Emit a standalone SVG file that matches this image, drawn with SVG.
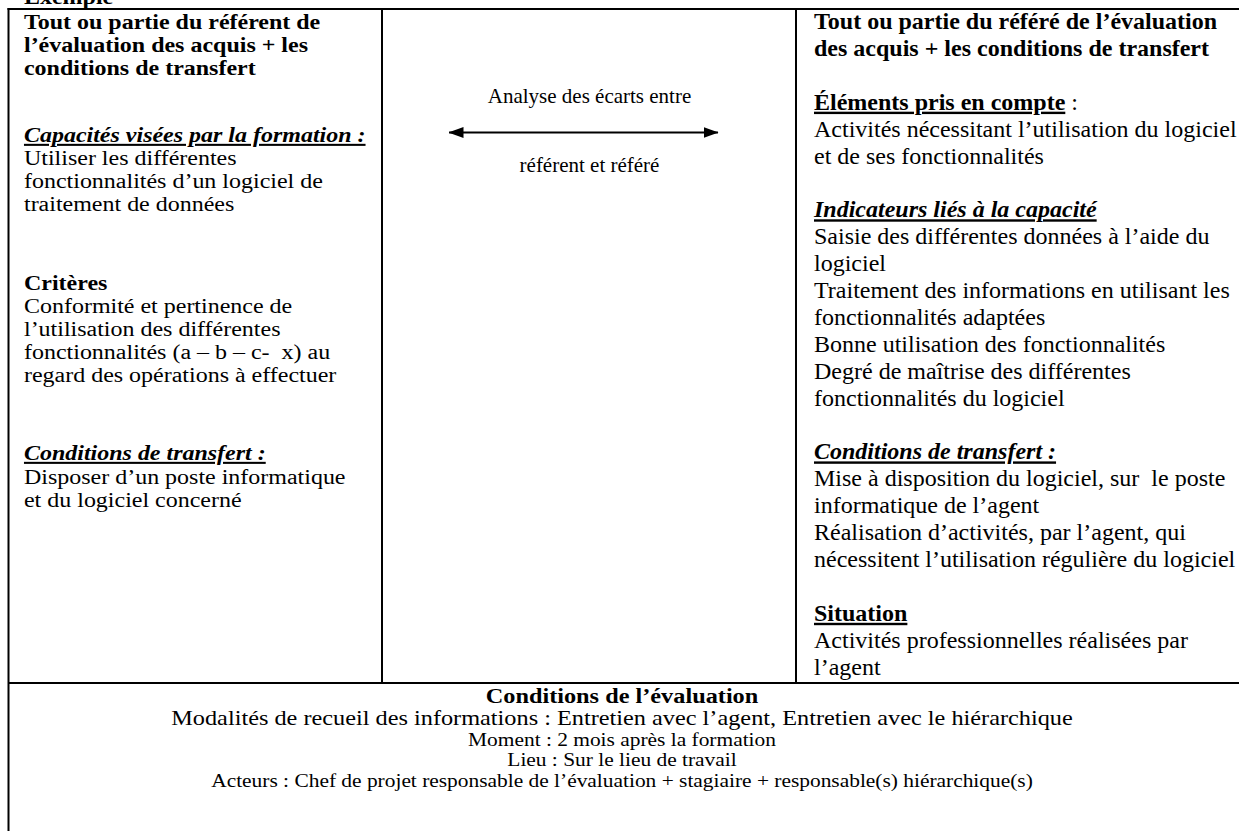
<svg xmlns="http://www.w3.org/2000/svg" width="1239" height="831" viewBox="0 0 1239 831">
<defs>
<style>
text{font-family:"Liberation Serif","Times New Roman",serif;fill:#000;white-space:pre}
.t{font-size:24px}
.l{font-size:20.5px}
.s{font-size:21px}
.f{font-size:18px}
.b{font-weight:bold}
.bi{font-weight:bold;font-style:italic;text-decoration:underline}
.u{text-decoration:underline}
.m{text-anchor:middle}
.ln{stroke:#000;stroke-width:2;fill:none}
</style>
<marker id="ah" viewBox="0 0 15 11" refX="14.5" refY="5.5" markerWidth="15" markerHeight="11" markerUnits="userSpaceOnUse" orient="auto-start-reverse">
<path d="M0,0 L15,5.5 L0,11 Z" fill="#000"/>
</marker>
</defs>
<rect x="0" y="0" width="1239" height="831" fill="#fff"/>
<g id="grid">
<line class="ln" x1="7.5" y1="9" x2="1239" y2="9"/>
<line class="ln" x1="8.5" y1="8" x2="8.5" y2="831"/>
<line class="ln" x1="382" y1="9" x2="382" y2="683"/>
<line class="ln" x1="796" y1="9" x2="796" y2="683"/>
<line class="ln" x1="8" y1="683" x2="1239" y2="683"/>
</g>
<g id="title" transform="scale(1.17 1)">
<text class="l b" x="20.5" y="4">Exemple</text>
</g>
<g id="cell-referent" transform="scale(1.17 1)">
<text class="l b" x="20.5" y="29">Tout ou partie du référent de</text>
<text class="l b" x="20.5" y="52">l’évaluation des acquis + les</text>
<text class="l b" x="20.5" y="75">conditions de transfert</text>
<text class="l bi" x="20.5" y="142">Capacités visées par la formation :</text>
<text class="l" x="20.5" y="165">Utiliser les différentes</text>
<text class="l" x="20.5" y="188">fonctionnalités d’un logiciel de</text>
<text class="l" x="20.5" y="211">traitement de données</text>
<text class="l b" x="20.5" y="290">Critères</text>
<text class="l" x="20.5" y="313">Conformité et pertinence de</text>
<text class="l" x="20.5" y="336">l’utilisation des différentes</text>
<text class="l" x="20.5" y="359">fonctionnalités (a – b – c-  x) au</text>
<text class="l" x="20.5" y="382">regard des opérations à effectuer</text>
<text class="l bi" x="20.5" y="460">Conditions de transfert :</text>
<text class="l" x="20.5" y="484">Disposer d’un poste informatique</text>
<text class="l" x="20.5" y="507">et du logiciel concerné</text>
</g>
<g id="cell-analyse">
<text class="s m" x="589.5" y="103">Analyse des écarts entre</text>
<text class="s m" x="589.5" y="172">référent et référé</text>
</g>
<g id="connectors">
<line class="ln" x1="449" y1="132.5" x2="718" y2="132.5" marker-start="url(#ah)" marker-end="url(#ah)"/>
</g>
<g id="cell-refere">
<text class="t b" x="814" y="29">Tout ou partie du référé de l’évaluation</text>
<text class="t b" x="814" y="55.9">des acquis + les conditions de transfert</text>
<text class="t" x="814" y="109.7"><tspan class="b u">Éléments pris en compte</tspan> :</text>
<text class="t" x="814" y="136.6">Activités nécessitant l’utilisation du logiciel</text>
<text class="t" x="814" y="163.5">et de ses fonctionnalités</text>
<text class="t bi" x="814" y="217.3">Indicateurs liés à la capacité</text>
<text class="t" x="814" y="244.2">Saisie des différentes données à l’aide du</text>
<text class="t" x="814" y="271.1">logiciel</text>
<text class="t" x="814" y="298">Traitement des informations en utilisant les</text>
<text class="t" x="814" y="324.9">fonctionnalités adaptées</text>
<text class="t" x="814" y="351.8">Bonne utilisation des fonctionnalités</text>
<text class="t" x="814" y="378.7">Degré de maîtrise des différentes</text>
<text class="t" x="814" y="405.6">fonctionnalités du logiciel</text>
<text class="t bi" x="814" y="459.4">Conditions de transfert :</text>
<text class="t" x="814" y="486.3">Mise à disposition du logiciel, sur  le poste</text>
<text class="t" x="814" y="513.2">informatique de l’agent</text>
<text class="t" x="814" y="540.1">Réalisation d’activités, par l’agent, qui</text>
<text class="t" x="814" y="567">nécessitent l’utilisation régulière du logiciel</text>
<text class="t b u" x="814" y="620.8">Situation</text>
<text class="t" x="814" y="647.7">Activités professionnelles réalisées par</text>
<text class="t" x="814" y="674.6">l’agent</text>
</g>
<g id="cell-conditions">
<g transform="scale(1.185 1)">
<text class="l b m" x="524.9" y="703">Conditions de l’évaluation</text>
<text class="l m" x="524.9" y="725">Modalités de recueil des informations : Entretien avec l’agent, Entretien avec le hiérarchique</text>
</g>
<g transform="scale(1.19 1)">
<text class="f m" x="522.7" y="746">Moment : 2 mois après la formation</text>
<text class="f m" x="522.7" y="766">Lieu : Sur le lieu de travail</text>
<text class="f m" x="522.7" y="787">Acteurs : Chef de projet responsable de l’évaluation + stagiaire + responsable(s) hiérarchique(s)</text>
</g>
</g>
</svg>
